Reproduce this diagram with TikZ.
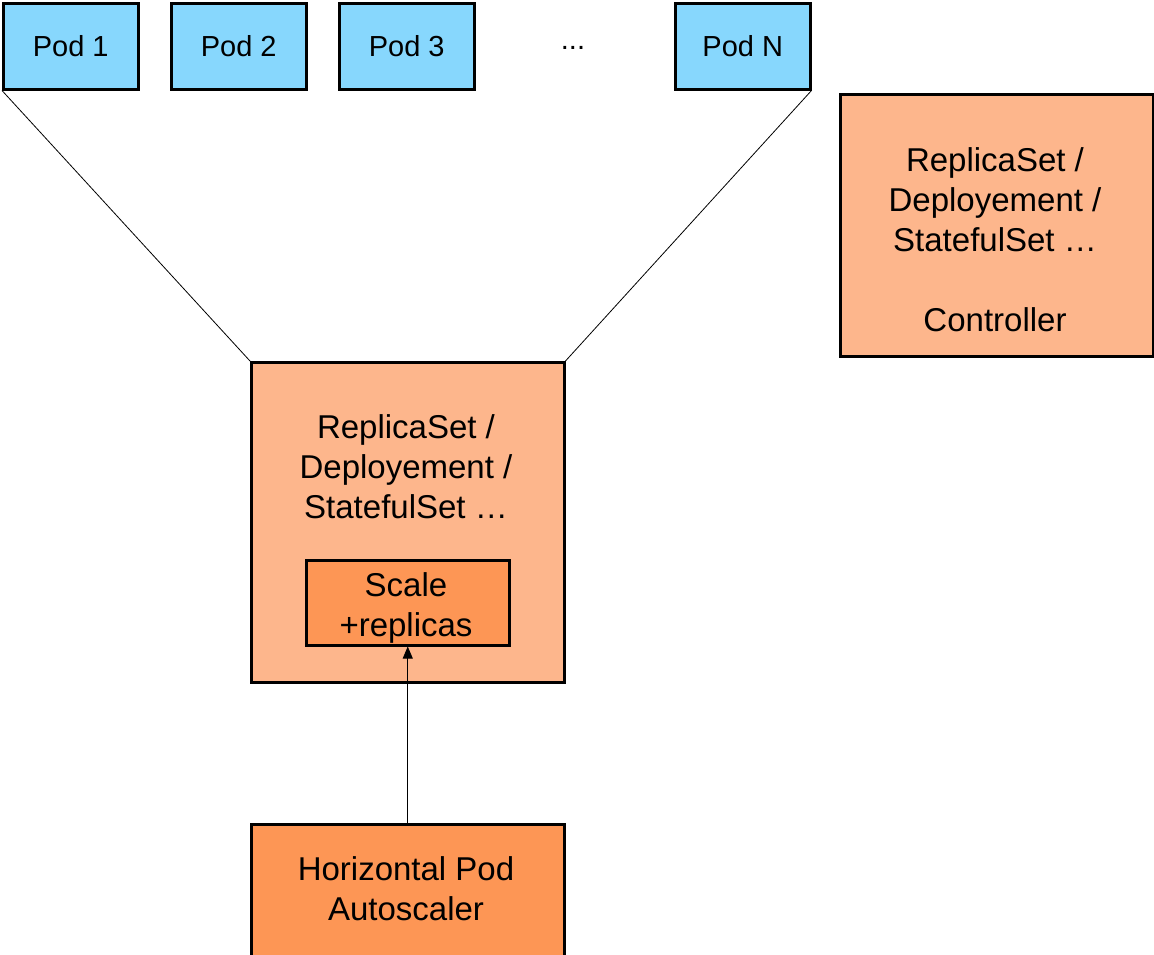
\documentclass[tikz,border=0pt]{standalone}
\usepackage{fontspec}
\setmainfont{Liberation Sans}
\usetikzlibrary{arrows.meta}
\definecolor{podblue}{HTML}{87D7FD}
\definecolor{salmon}{HTML}{FDB68C}
\definecolor{deeporange}{HTML}{FD9655}
\begin{document}
\begin{tikzpicture}[x=1pt,y=-1pt,
  box/.style={draw=black,line width=2.5pt,inner sep=0pt,anchor=north west},
  podbox/.style={box,fill=podblue,minimum width=135pt,minimum height=86pt,font=\fontsize{29}{34}\selectfont},
  bigtxt/.style={font=\fontsize{33}{40}\selectfont,align=center},
  conn/.style={draw=black,line width=0.8pt}]
\useasboundingbox (0,0) rectangle (1154,954);
\node[podbox] (p1) at (2,2) {Pod 1};
\node[podbox] (p2) at (170,2) {Pod 2};
\node[podbox] (p3) at (338,2) {Pod 3};
\node[font=\fontsize{29}{34}\selectfont] (dots) at (573,48) {...};
\node[podbox] (pn) at (674,2) {Pod N};
\node[box,fill=salmon,minimum width=313pt,minimum height=262pt] (ctrl) at (839,93) {};
\node[bigtxt] (ctrltxt) at (995,240) {ReplicaSet /\\Deployement /\\StatefulSet …\\[40pt]Controller};
\node[box,fill=salmon,minimum width=313pt,minimum height=320pt] (main) at (250,361) {};
\node[bigtxt] (maintxt) at (406,467) {ReplicaSet /\\Deployement /\\StatefulSet …};
\node[box,fill=deeporange,minimum width=203pt,minimum height=85pt] (scale) at (305,559) {};
\node[bigtxt] (scaletxt) at (406,608) {Scale\\+replicas};
\node[box,fill=deeporange,minimum width=313pt,minimum height=140pt] (hpa) at (250,823) {};
\node[bigtxt] (hpatxt) at (406,889) {Horizontal Pod\\Autoscaler};
\draw[conn] (p1.south west) -- (main.north west);
\draw[conn] (pn.south east) -- (main.north east);
\draw[conn,-{Triangle[length=12pt,width=10pt]}] (hpa.north) -- (scale.south);
\end{tikzpicture}
\end{document}
